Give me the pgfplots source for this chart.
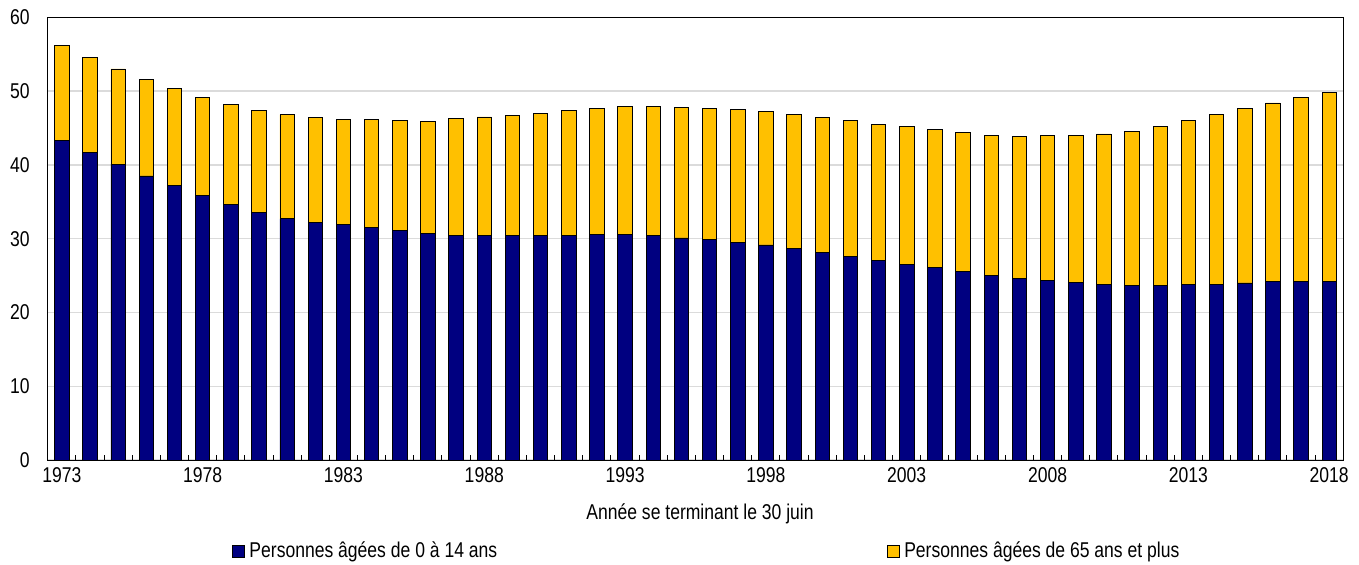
\documentclass[border=0pt]{standalone}
\usepackage{fontspec}
\setmainfont[FakeStretch=0.82]{Liberation Sans}
\usepackage{pgfplots}
\usepackage{pgfplotstable}
\pgfplotsset{compat=1.18}

\definecolor{navyblue}{HTML}{000080}
\definecolor{gold}{HTML}{FFC000}

% year, 0-14 ans, 65 ans et plus
\pgfplotstableread{
year young old
1973 43.30 12.90
1974 41.65 12.85
1975 40.10 12.90
1976 38.50 13.10
1977 37.20 13.20
1978 35.80 13.40
1979 34.60 13.60
1980 33.50 13.90
1981 32.70 14.10
1982 32.20 14.20
1983 31.90 14.30
1984 31.50 14.60
1985 31.10 14.90
1986 30.70 15.20
1987 30.50 15.76
1988 30.50 16.00
1989 30.40 16.30
1990 30.45 16.55
1991 30.45 16.90
1992 30.60 17.10
1993 30.55 17.35
1994 30.40 17.50
1995 30.10 17.70
1996 29.90 17.80
1997 29.50 18.00
1998 29.15 18.15
1999 28.65 18.20
2000 28.15 18.25
2001 27.56 18.44
2002 27.07 18.43
2003 26.57 18.63
2004 26.07 18.73
2005 25.58 18.82
2006 25.04 19.01
2007 24.63 19.27
2008 24.36 19.59
2009 24.09 19.96
2010 23.86 20.34
2011 23.72 20.78
2012 23.72 21.48
2013 23.77 22.23
2014 23.81 22.99
2015 24.00 23.60
2016 24.17 24.23
2017 24.22 24.98
2018 24.22 25.58
}\ratios

\begin{document}
\begin{tikzpicture}
\begin{axis}[
    width=647.8pt, height=221.4pt,
    scale only axis,
    ybar stacked,
    bar width=7.2pt,
    xmin=1972.5, xmax=2018.5,
    ymin=0, ymax=60,
    xtick={1973,1978,...,2018},
    minor xtick={1973.5,1974.5,...,2017.5},
    ytick={0,10,...,60},
    xtick pos=lower,
    tick align=inside,
    major tick length=0pt,
    minor tick length=2.5pt,
    minor tick style={black, line width=0.5pt},
    ymajorgrids=true,
    grid style={gray!28, line width=0.7pt},
    axis line style={black, line width=0.5pt},
    font=\fontsize{10.7}{12}\selectfont,
    /pgf/number format/assume math mode=true,
    /pgf/number format/1000 sep={},
    yticklabel style={xshift=-5.5pt},
    xlabel={Année se terminant le 30 juin},
    xlabel style={at={(axis description cs:0.5035,-0.122)}, anchor=center},
    legend columns=2,
    legend style={draw=none, fill=none, inner sep=0pt,
        at={(0.1423,-0.2055)}, anchor=west,
        /tikz/every even column/.append style={column sep=193pt},
        font=\fontsize{10.7}{12}\selectfont},
    legend image code/.code={\draw[#1, draw=black, line width=0.5pt] (0pt,-3pt) rectangle (6pt,3pt);},
]
\addplot[fill=navyblue, draw=black, line width=0.4pt] table[x=year, y=young] {\ratios};
\addlegendentry{Personnes âgées de 0 à 14 ans}
\addplot[fill=gold, draw=black, line width=0.4pt] table[x=year, y=old] {\ratios};
\addlegendentry{Personnes âgées de 65 ans et plus}
\end{axis}
\path ([xshift=-23.85pt,yshift=-51.5pt]current axis.south west)
    rectangle ([xshift=7.85pt,yshift=8.65pt]current axis.north east);
\end{tikzpicture}
\end{document}
